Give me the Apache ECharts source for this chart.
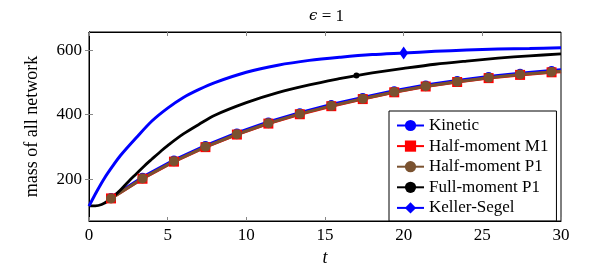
<!DOCTYPE html>
<html>
<head>
<meta charset="utf-8">
<script src="https://cdn.jsdelivr.net/npm/echarts@6/dist/echarts.min.js"></script>
<style>html,body{margin:0;padding:0;background:#fff;}#c{width:593px;height:277px;}</style>
</head>
<body>
<div id="c"></div>
<script>
// ---- data ----
const seriesNames = ['Kinetic', 'Half-moment M1', 'Half-moment P1', 'Full-moment P1', 'Keller-Segel'];
const xTicks = [0, 5, 10, 15, 20, 25, 30];
const yTicks = [200, 400, 600];

const tHalf = [1.4, 3.4, 5.4, 7.4, 9.4, 11.4, 13.4, 15.4, 17.4, 19.4, 21.4, 23.4, 25.4, 27.4, 29.4, 30];
const kinetic = [143, 206, 259, 304, 343, 377, 406, 431, 453, 474, 492, 506, 518, 528, 537, 539];
const halfM1  = [140, 201, 254, 299, 338, 372, 401, 426, 448, 469, 487, 501, 513, 523, 531, 533];
const halfP1  = [140, 202, 255, 300, 339, 373, 402, 427, 449, 470, 488, 502, 514, 524, 532, 534];

const tFull = [0, 0.4, 0.8, 1.2, 1.6, 2, 2.5, 3, 3.5, 4, 4.6, 5, 6, 7, 8, 10, 12, 14, 16, 17, 18, 20, 22, 24, 26, 28, 30];
const fullP1 = [117, 117, 121, 132, 148, 166, 192, 216, 240, 262, 288, 304, 340, 370, 398, 437, 468, 492, 512, 521, 529, 543, 556, 566, 575, 582, 588];
const fullMarkT = 17;

const tKS = [0, 0.5, 1, 1.5, 2, 3, 4, 5, 6, 7, 8, 10, 12, 14, 16, 18, 20, 22, 24, 26, 28, 30];
const kellerSegel = [116, 162, 204, 240, 273, 328, 380, 420, 453, 478, 499, 531, 553, 568, 578, 586, 591, 596, 600, 603, 605, 607];
const ksMarkT = 20;

// ---- build ----
const FONT = '"Liberation Serif", "DejaVu Serif", serif';
function pairs(ts, vs, markFn) {
  return ts.map((t, i) => {
    const item = { value: [t, vs[i]] };
    if (!markFn(t, i)) item.symbol = 'none';
    return item;
  });
}
const halfMark = (t, i) => i < tHalf.length - 1;

const chart = echarts.init(document.getElementById('c'), null, { renderer: 'canvas' });
const tickStyle = { inside: true, length: 4, lineStyle: { color: '#888', width: 1 } };
const option = {
  animation: false,
  backgroundColor: '#fff',
  title: {
    text: '{i|ϵ} = 1',
    left: 304, top: 3,
    textStyle: { fontFamily: FONT, fontSize: 17, fontWeight: 'normal', color: '#000',
      rich: { i: { fontFamily: '"DejaVu Serif", serif', fontStyle: 'italic', fontSize: 15, color: '#000' } } }
  },
  grid: { left: 89, top: 32, width: 472, height: 189, show: true, borderColor: '#000', borderWidth: 1, backgroundColor: 'transparent' },
  legend: {
    orient: 'vertical', left: 389, top: 111,
    itemWidth: 27, itemHeight: 14, itemGap: 3.6,
    padding: [6, 8, 4.5, 7],
    borderColor: '#000', borderWidth: 1, borderRadius: 0, backgroundColor: '#fff',
    textStyle: { fontFamily: FONT, fontSize: 17, color: '#000', width: 124 },
    data: seriesNames
  },
  xAxis: [{
    type: 'value', min: xTicks[0], max: xTicks[xTicks.length - 1], interval: 5, position: 'bottom',
    axisLine: { show: true, lineStyle: { color: '#000', width: 1 } },
    axisTick: tickStyle,
    axisLabel: { fontFamily: FONT, fontSize: 17, color: '#000', margin: 6 },
    splitLine: { show: false },
    name: 't', nameLocation: 'middle', nameGap: 27,
    nameTextStyle: { fontFamily: FONT, fontSize: 18, fontStyle: 'italic', color: '#000' }
  }, {
    type: 'value', min: xTicks[0], max: xTicks[xTicks.length - 1], interval: 5, position: 'top',
    axisLine: { show: true, lineStyle: { color: '#000', width: 1 } },
    axisTick: tickStyle, axisLabel: { show: false }, splitLine: { show: false }
  }],
  yAxis: [{
    type: 'value', min: 70, max: 656, position: 'left',
    axisLine: { show: true, lineStyle: { color: '#000', width: 1 } },
    axisTick: Object.assign({ customValues: yTicks }, tickStyle),
    axisLabel: { customValues: yTicks, fontFamily: FONT, fontSize: 17, color: '#000', margin: 7 },
    splitLine: { show: false },
    name: 'mass of all network', nameLocation: 'middle', nameGap: 48, nameRotate: 90,
    nameTextStyle: { fontFamily: FONT, fontSize: 18, color: '#000' }
  }, {
    type: 'value', min: 70, max: 656, position: 'right',
    axisLine: { show: true, lineStyle: { color: '#000', width: 1 } },
    axisTick: Object.assign({ customValues: yTicks }, tickStyle),
    axisLabel: { show: false }, splitLine: { show: false }
  }],
  series: [{
    name: seriesNames[0], type: 'line', xAxisIndex: 0, yAxisIndex: 0,
    data: pairs(tHalf, kinetic, halfMark),
    symbol: 'circle', symbolSize: 9, showAllSymbol: true,
    lineStyle: { color: '#0000ff', width: 3 }, itemStyle: { color: '#0000ff' }
  }, {
    name: seriesNames[1], type: 'line',
    data: pairs(tHalf, halfM1, halfMark),
    symbol: 'rect', symbolSize: 10, showAllSymbol: true,
    lineStyle: { color: '#ff0000', width: 3 }, itemStyle: { color: '#ff0000' }
  }, {
    name: seriesNames[2], type: 'line',
    data: pairs(tHalf, halfP1, halfMark),
    symbol: 'circle', symbolSize: 10, showAllSymbol: true,
    lineStyle: { color: '#7a5230', width: 3 }, itemStyle: { color: '#7a5230' }
  }, {
    name: seriesNames[3], type: 'line',
    data: pairs(tFull, fullP1, (t) => t === fullMarkT),
    symbol: 'circle', symbolSize: 6, showAllSymbol: true, smooth: 0.3,
    lineStyle: { color: '#000', width: 2.8 }, itemStyle: { color: '#000' }
  }, {
    name: seriesNames[4], type: 'line',
    data: pairs(tKS, kellerSegel, (t) => t === ksMarkT),
    symbol: 'diamond', symbolSize: [9, 13], showAllSymbol: true, smooth: 0.3,
    lineStyle: { color: '#0000ff', width: 3 }, itemStyle: { color: '#0000ff' }
  }]
};
chart.setOption(option);
</script>
</body>
</html>
